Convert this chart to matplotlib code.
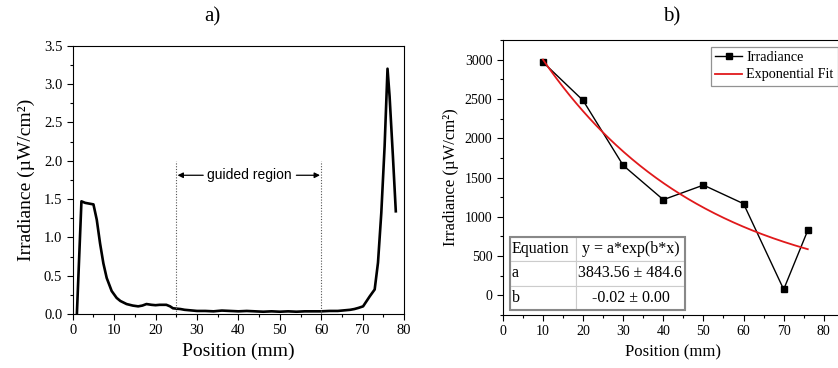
import numpy as np
import matplotlib
matplotlib.use('Agg')
import matplotlib.pyplot as plt
from matplotlib.ticker import MultipleLocator

# panel a) irradiance profile along the guide
pos_a = [1.0, 2.1, 3, 4, 5.0, 5.8, 6.6, 7.4, 8.2, 9.4, 10.6, 11.5, 13, 14.5, 15.8,
         16.8, 17.8, 19, 20, 21, 22.6, 23.5, 24.2, 25, 26, 27, 28, 29, 30, 32, 34,
         36, 38, 40, 42, 44, 46, 48, 50, 52, 54, 56, 58, 60, 62, 64, 65, 66, 67,
         68, 69, 70.1, 71.7, 72.9, 73.7, 74.5, 75.3, 76.0, 76.5, 77.3, 78.0]
irr_a = [0.0, 1.47, 1.45, 1.44, 1.43, 1.23, 0.92, 0.66, 0.47, 0.30, 0.21, 0.17, 0.13,
         0.11, 0.10, 0.11, 0.13, 0.12, 0.115, 0.12, 0.12, 0.10, 0.075, 0.07, 0.065,
         0.055, 0.05, 0.045, 0.04, 0.04, 0.035, 0.045, 0.04, 0.035, 0.04, 0.035,
         0.03, 0.035, 0.03, 0.035, 0.03, 0.035, 0.035, 0.035, 0.04, 0.04, 0.045,
         0.05, 0.055, 0.065, 0.08, 0.10, 0.23, 0.32, 0.67, 1.32, 2.19, 3.2, 2.84,
         2.06, 1.34]
guide_start, guide_end = 25, 60

# panel b) irradiance at discrete positions + exponential fit
pos_b = [10, 20, 30, 40, 50, 60, 70, 76]
irr_b = [2970, 2482, 1655, 1218, 1404, 1167, 76, 827]
fit_a = 3843.56
fit_b = -0.0247
table_rows = [['Equation', 'y = a*exp(b*x)'],
              ['a', '3843.56 \u00b1 484.6'],
              ['b', '-0.02 \u00b1 0.00']]

serif = 'Liberation Serif'
plt.rcParams['font.family'] = serif
plt.rcParams['xtick.direction'] = 'out'
plt.rcParams['ytick.direction'] = 'out'

fig = plt.figure(figsize=(8.38, 3.68), dpi=100)
ax1 = fig.add_axes([0.0868, 0.1467, 0.3954, 0.7291])
ax2 = fig.add_axes([0.600, 0.144, 0.407, 0.747])

# ---- panel a
ax1.plot(pos_a, irr_a, color='black', lw=1.9)
for gx in (guide_start, guide_end):
    ax1.plot([gx, gx], [0, 2.0], color='#555555', lw=0.8, ls=(0, (1, 1.5)))
ax1.annotate('', xy=(guide_start + 0.3, 1.81), xytext=(31.5, 1.81),
             arrowprops=dict(arrowstyle='-|>', color='black', lw=0.9,
                             mutation_scale=8, shrinkA=0, shrinkB=0))
ax1.annotate('', xy=(guide_end - 0.3, 1.81), xytext=(54, 1.81),
             arrowprops=dict(arrowstyle='-|>', color='black', lw=0.9,
                             mutation_scale=8, shrinkA=0, shrinkB=0))
ax1.text(42.6, 1.81, 'guided region', family='Liberation Sans', fontsize=10,
         ha='center', va='center')
ax1.set_xlim(0, 80)
ax1.set_ylim(0, 3.5)
ax1.xaxis.set_major_locator(MultipleLocator(10))
ax1.xaxis.set_minor_locator(MultipleLocator(5))
ax1.yaxis.set_major_locator(MultipleLocator(0.5))
ax1.yaxis.set_minor_locator(MultipleLocator(0.25))
ax1.yaxis.set_major_formatter(matplotlib.ticker.FormatStrFormatter('%.1f'))
ax1.tick_params(labelsize=10.5, length=4, width=0.8)
ax1.tick_params(which='minor', length=2.5, width=0.8)
ax1.set_xlabel('Position (mm)', fontsize=14, labelpad=4)
ax1.set_ylabel('Irradiance (\u00b5W/cm\u00b2)', fontsize=14, labelpad=6)

# ---- panel b
xf = np.linspace(pos_b[0], pos_b[-1], 200)
ax2.plot(pos_b, irr_b, color='black', lw=1.0, marker='s', ms=5,
         label='Irradiance')
ax2.plot(xf, fit_a * np.exp(fit_b * xf), color='#e0191b', lw=1.3,
         label='Exponential Fit')
ax2.set_xlim(0, 85)
ax2.set_ylim(-250, 3250)
ax2.xaxis.set_major_locator(MultipleLocator(10))
ax2.xaxis.set_minor_locator(MultipleLocator(5))
ax2.yaxis.set_major_locator(MultipleLocator(500))
ax2.yaxis.set_minor_locator(MultipleLocator(250))
ax2.tick_params(labelsize=10, length=4, width=0.8)
ax2.tick_params(which='minor', length=2.5, width=0.8)
ax2.set_xlabel('Position (mm)', fontsize=12, labelpad=4)
ax2.set_ylabel('Irradiance (\u00b5W/cm\u00b2)', fontsize=12, labelpad=4)
leg = ax2.legend(loc='upper left', bbox_to_anchor=(0.610, 0.975), fontsize=10.2,
                 frameon=True, fancybox=False, edgecolor='#777777',
                 handlelength=1.9, borderpad=0.3, labelspacing=0.3,
                 handletextpad=0.3, borderaxespad=0)
leg.get_frame().set_linewidth(0.9)

tab = ax2.table(cellText=table_rows, colWidths=[66, 109],
                bbox=[0.021, 0.018, 0.513, 0.266], cellLoc='center')
tab.auto_set_font_size(False)
tab.set_fontsize(11.5)
for (r, c), cell in tab.get_celld().items():
    cell.set_edgecolor('#cccccc')
    cell.set_linewidth(0.8)
    cell.get_text().set_fontfamily(serif)
    if c == 0:
        cell.get_text().set_ha('left')
        cell.PAD = 0.03
ax2.add_patch(plt.Rectangle((0.021, 0.018), 0.513, 0.266, transform=ax2.transAxes,
                            fill=False, edgecolor='#888888', lw=1.5, zorder=10))

fig.text(0.253, 0.955, 'a)', fontsize=15, ha='center', va='center')
fig.text(0.802, 0.955, 'b)', fontsize=15, ha='center', va='center')

plt.savefig('out.png', dpi=100)
